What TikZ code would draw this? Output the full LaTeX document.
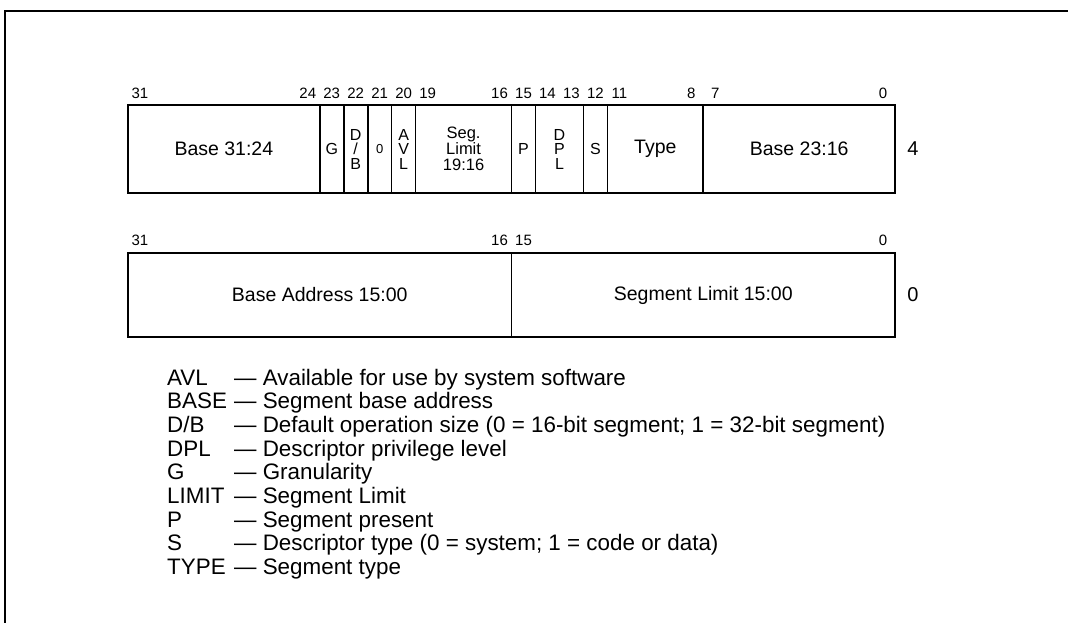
\documentclass[tikz,border=0pt]{standalone}
\usepackage{fontspec}
\setmainfont{Liberation Sans}
\usetikzlibrary{positioning}

\newcommand{\bitw}{23.97}

\tikzset{
  field/.style={minimum height=88pt, inner sep=0pt, outer sep=0pt, align=center,
    font=\fontsize{19.5}{17}\selectfont},
  narrowfield/.style={field, font=\fontsize{16}{14.5}\selectfont},
  wordfield/.style={field, minimum height=84pt},
  bitnum/.style={inner sep=0pt, font=\fontsize{15}{15}\selectfont},
  offsetnum/.style={inner sep=0pt, font=\fontsize{20}{20}\selectfont},
  legend/.style={inner sep=0pt, anchor=base west, font=\fontsize{22.4}{22}\selectfont},
  boxline/.style={line width=2pt},
}

\begin{document}
\begin{tikzpicture}[x=1pt, y=-1pt]
\useasboundingbox (0,0) rectangle (1068,623);

% outer frame
\coordinate (fbl) at (4.5,623);
\coordinate (ftl) at (4.5,11.5);
\coordinate (ftr) at (1068,11.5);
\draw[line width=2pt] (fbl) -- (ftl) -- (ftr);

% upper doubleword (offset 4)
\node[field, minimum width=8*\bitw pt, anchor=north west] (base3124) at (128,105) {Base 31:24};
\node[narrowfield, minimum width=\bitw pt, right=0pt of base3124] (g) {G};
\node[narrowfield, minimum width=\bitw pt, right=0pt of g] (db) {D\\/\\B};
\node[narrowfield, minimum width=\bitw pt, right=0pt of db] (zero) {\fontsize{13}{13}\selectfont 0};
\node[narrowfield, minimum width=\bitw pt, right=0pt of zero] (avl) {A\\V\\L};
\node[field, minimum width=4*\bitw pt, right=0pt of avl, font=\fontsize{16.5}{16}\selectfont] (seglim) {Seg.\\Limit\\19:16};
\node[narrowfield, minimum width=\bitw pt, right=0pt of seglim] (p) {P};
\node[narrowfield, minimum width=2*\bitw pt, right=0pt of p] (dpl) {D\\P\\L};
\node[narrowfield, minimum width=\bitw pt, right=0pt of dpl] (s) {S};
\node[field, minimum width=4*\bitw pt, right=0pt of s] (type) {Type};
\node[field, minimum width=8*\bitw pt, right=0pt of type] (base2316) {Base 23:16};

\draw[boxline] (base3124.north west) rectangle (base2316.south east);
\foreach \f/\lw in {base3124/1.8, g/1.8, db/1.8, zero/1.6, avl/0.9, seglim/1.8, p/0.9, dpl/0.9, s/1.8, type/1.8}
  \draw[line width=\lw pt] (\f.north east) -- (\f.south east);

\foreach \b in {31,24,23,22,21,20,19,16,15,14,13,12,11,8,7,0}
  \node[bitnum] (hi\b) at ({128+(31.5-\b)*\bitw}, 93) {\b};
\node[offsetnum, right=12pt of base2316] (off4) {4};

% lower doubleword (offset 0)
\node[wordfield, minimum width=16*\bitw pt, anchor=north west] (baseaddr) at (128,253) {Base Address 15:00};
\node[wordfield, minimum width=16*\bitw pt, right=0pt of baseaddr] (seglimit) {Segment Limit 15:00};

\draw[boxline] (baseaddr.north west) rectangle (seglimit.south east);
\draw[line width=1.2pt] (baseaddr.north east) -- (baseaddr.south east);

\foreach \b in {31,16,15,0}
  \node[bitnum] (lo\b) at ({128+(31.5-\b)*\bitw}, 240) {\b};
\node[offsetnum, right=12pt of seglimit] (off0) {0};

% legend
\foreach \abbr/\desc [count=\i] in {
    AVL/Available for use by system software,
    BASE/Segment base address,
    {D/B}/Default operation size (0 = 16-bit segment; 1 = 32-bit segment),
    DPL/Descriptor privilege level,
    G/Granularity,
    LIMIT/Segment Limit,
    P/Segment present,
    S/Descriptor type (0 = system; 1 = code or data),
    TYPE/Segment type}
{
  \node[legend] (abbr\i) at (167, {385+(\i-1)*23.7}) {\abbr};
  \node[legend] (desc\i) at (234, {385+(\i-1)*23.7}) {— \desc};
}
\end{tikzpicture}
\end{document}
